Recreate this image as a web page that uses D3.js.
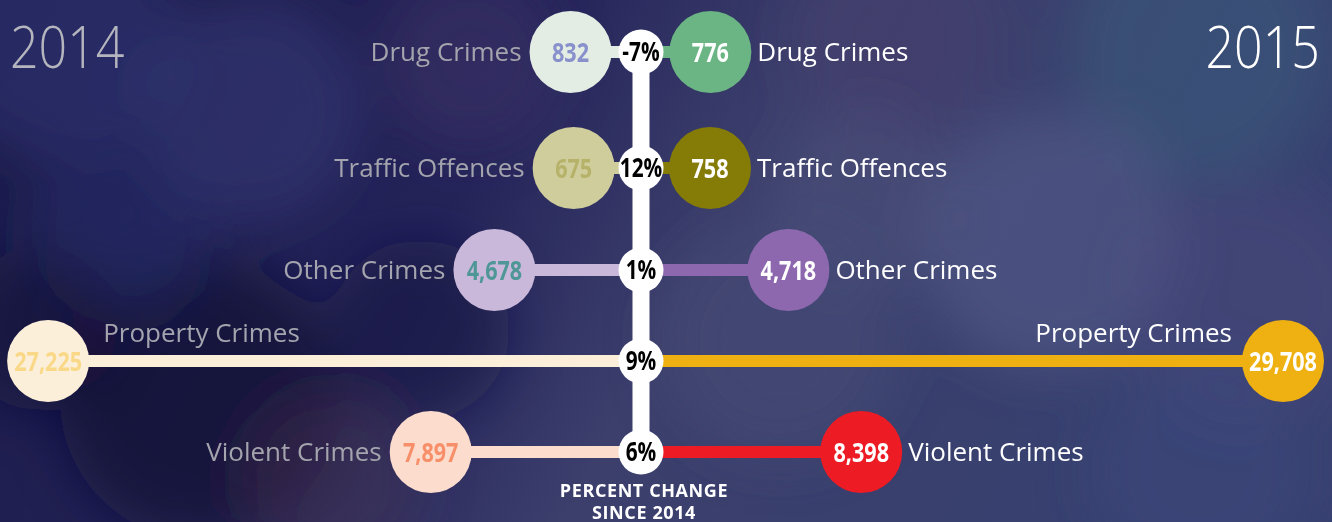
<!DOCTYPE html>
<html>
<head>
<meta charset="utf-8">
<script src="https://cdnjs.cloudflare.com/ajax/libs/d3/7.8.5/d3.min.js"></script>
<style>
  body { margin: 0; background: #23224f; overflow: hidden; }
  svg { display: block; }
</style>
</head>
<body>
<script>
// chart data
var categories = ["Drug Crimes", "Traffic Offences", "Other Crimes", "Property Crimes", "Violent Crimes"];
var values2014 = [832, 675, 4678, 27225, 7897];
var values2015 = [776, 758, 4718, 29708, 8398];
var changeLabels = ["-7%", "12%", "1%", "9%", "6%"];
var yearLabels = ["2014", "2015"];

// colours per category
var fill2014 = ["#e3ede3", "#cfcd9c", "#c9b8da", "#fcefd9", "#fcdccc"];
var text2014 = ["#8891cc", "#b6b26a", "#4f9797", "#f9d888", "#f7906a"];
var fill2015 = ["#6ab583", "#857c08", "#8d68ae", "#eeb111", "#ed1c24"];

var width = 1332,
    height = 522,
    cx = 641,
    r = 41,
    rp = 22.5,
    squeeze = 0.8; // condensed look for the bold figures

// background bokeh blobs (decoration only)
var bokeh = [
    [60, 40, 120, "#34387a", 0.5], [250, 110, 110, "#3a4380", 0.45], [470, 60, 90, "#4a3a70", 0.35],
    [900, 40, 110, "#4a3d6e", 0.4], [1200, 50, 130, "#3f6a80", 0.35], [1050, 240, 130, "#5a6090", 0.5],
    [1250, 300, 120, "#4f4c80", 0.4], [860, 200, 90, "#55597f", 0.4], [200, 400, 140, "#120f34", 0.7],
    [420, 330, 90, "#161640", 0.55], [1200, 470, 110, "#3b4a80", 0.4], [120, 230, 90, "#2b3270", 0.4],
    [780, 340, 120, "#4a4d7a", 0.45], [330, 480, 90, "#4a3550", 0.4], [40, 330, 80, "#161338", 0.6]
];

var svg = d3.select("body").append("svg")
    .attr("width", width)
    .attr("height", height);

var defs = svg.append("defs");
var grad = defs.append("linearGradient")
    .attr("id", "bg")
    .attr("x1", 0).attr("y1", 0).attr("x2", 1).attr("y2", 0.2);
grad.append("stop").attr("offset", "0%").attr("stop-color", "#1c1b4a");
grad.append("stop").attr("offset", "40%").attr("stop-color", "#25245a");
grad.append("stop").attr("offset", "60%").attr("stop-color", "#3c3f6c");
grad.append("stop").attr("offset", "100%").attr("stop-color", "#374170");

defs.append("filter")
    .attr("id", "blur")
    .attr("x", "-50%").attr("y", "-50%").attr("width", "200%").attr("height", "200%")
    .append("feGaussianBlur")
    .attr("stdDeviation", 26);

svg.append("rect")
    .attr("width", width)
    .attr("height", height)
    .attr("fill", "url(#bg)");

svg.append("g")
    .attr("filter", "url(#blur)")
    .selectAll("circle")
    .data(bokeh)
    .enter().append("circle")
    .attr("cx", function(d) { return d[0]; })
    .attr("cy", function(d) { return d[1]; })
    .attr("r", function(d) { return d[2]; })
    .attr("fill", function(d) { return d[3]; })
    .attr("opacity", function(d) { return d[4]; });

// distance from the centre line for each value
var offset = d3.scaleLinear()
    .domain([0, 29708])
    .range([54, 642]);

// row positions
var y = d3.scaleOrdinal()
    .domain(categories)
    .range([52, 168, 270, 361, 452]);

var fmt = d3.format(",");

var rows = categories.map(function(c, i) {
    return {
        name: c,
        v14: values2014[i],
        v15: values2015[i],
        change: changeLabels[i],
        i: i
    };
});

function lx(d) { return cx - offset(d.v14); }
function rx(d) { return cx + offset(d.v15); }
function squeezeAt(x, d) {
    return "translate(" + x + "," + y(d.name) + ") scale(" + squeeze + ",1)";
}

// vertical spine
svg.append("line")
    .attr("x1", cx).attr("x2", cx)
    .attr("y1", y(categories[0]))
    .attr("y2", y(categories[categories.length - 1]))
    .attr("stroke", "#fff")
    .attr("stroke-width", 17);

var row = svg.selectAll(".row")
    .data(rows)
    .enter().append("g")
    .attr("class", "row");

// connector lines
row.append("line")
    .attr("x1", lx).attr("x2", cx)
    .attr("y1", function(d) { return y(d.name); })
    .attr("y2", function(d) { return y(d.name); })
    .attr("stroke", function(d) { return fill2014[d.i]; })
    .attr("stroke-width", 12);

row.append("line")
    .attr("x1", cx).attr("x2", rx)
    .attr("y1", function(d) { return y(d.name); })
    .attr("y2", function(d) { return y(d.name); })
    .attr("stroke", function(d) { return fill2015[d.i]; })
    .attr("stroke-width", 12);

// 2014 circles
row.append("circle")
    .attr("cx", lx)
    .attr("cy", function(d) { return y(d.name); })
    .attr("r", r)
    .attr("fill", function(d) { return fill2014[d.i]; });

row.append("text")
    .attr("transform", function(d) { return squeezeAt(lx(d), d); })
    .attr("dy", "0.36em")
    .attr("text-anchor", "middle")
    .attr("class", "num")
    .style("fill", function(d) { return text2014[d.i]; })
    .text(function(d) { return fmt(d.v14); });

// 2015 circles
row.append("circle")
    .attr("cx", rx)
    .attr("cy", function(d) { return y(d.name); })
    .attr("r", r)
    .attr("fill", function(d) { return fill2015[d.i]; });

row.append("text")
    .attr("transform", function(d) { return squeezeAt(rx(d), d); })
    .attr("dy", "0.36em")
    .attr("text-anchor", "middle")
    .attr("class", "num")
    .style("fill", "#fff")
    .text(function(d) { return fmt(d.v15); });

svg.selectAll(".num")
    .style("font-family", "'Open Sans', sans-serif")
    .style("font-weight", "bold")
    .style("font-size", "27px");

// percent change bubbles
row.append("circle")
    .attr("cx", cx)
    .attr("cy", function(d) { return y(d.name); })
    .attr("r", rp)
    .attr("fill", "#fff");

row.append("text")
    .attr("transform", function(d) { return squeezeAt(cx, d); })
    .attr("dy", "0.36em")
    .attr("text-anchor", "middle")
    .style("font-family", "'Open Sans', sans-serif")
    .style("font-weight", "bold")
    .style("font-size", "26px")
    .style("fill", "#000")
    .text(function(d) { return d.change; });

// category labels: beside the circles, or above the line when the row is long
function wide(d) { return offset(d.v14) > 300; }

row.append("text")
    .attr("class", "lab")
    .attr("x", function(d) { return wide(d) ? lx(d) + r + 14 : lx(d) - r - 8; })
    .attr("y", function(d) { return wide(d) ? y(d.name) - 28 : y(d.name); })
    .attr("dy", "0.35em")
    .attr("text-anchor", function(d) { return wide(d) ? "start" : "end"; })
    .style("fill", "#a3a4ad")
    .text(function(d) { return d.name; });

row.append("text")
    .attr("class", "lab")
    .attr("x", function(d) { return wide(d) ? rx(d) - r - 10 : rx(d) + r + 6; })
    .attr("y", function(d) { return wide(d) ? y(d.name) - 28 : y(d.name); })
    .attr("dy", "0.35em")
    .attr("text-anchor", function(d) { return wide(d) ? "end" : "start"; })
    .style("fill", "#fff")
    .text(function(d) { return d.name; });

svg.selectAll(".lab")
    .style("font-family", "'Open Sans', sans-serif")
    .style("font-size", "26px");

// year headings
svg.append("text")
    .attr("transform", "translate(10,68) scale(0.85,1)")
    .style("font-family", "'Open Sans', sans-serif")
    .style("font-weight", 300)
    .style("font-size", "59px")
    .style("fill", "#b4b5bd")
    .text(yearLabels[0]);

svg.append("text")
    .attr("transform", "translate(1320,68) scale(0.85,1)")
    .attr("text-anchor", "end")
    .style("font-family", "'Open Sans', sans-serif")
    .style("font-weight", 300)
    .style("font-size", "59px")
    .style("fill", "#fff")
    .text(yearLabels[1]);

// footnote under the spine
var note = svg.append("text")
    .attr("x", 644)
    .attr("y", 497)
    .attr("text-anchor", "middle")
    .style("font-family", "'Open Sans', sans-serif")
    .style("font-weight", "bold")
    .style("font-size", "18px")
    .style("letter-spacing", "0.6px")
    .style("fill", "#fff");

note.append("tspan").attr("x", 644).text("PERCENT CHANGE");
note.append("tspan").attr("x", 644).attr("dy", 22).text("SINCE " + yearLabels[0]);
</script>
</body>
</html>
